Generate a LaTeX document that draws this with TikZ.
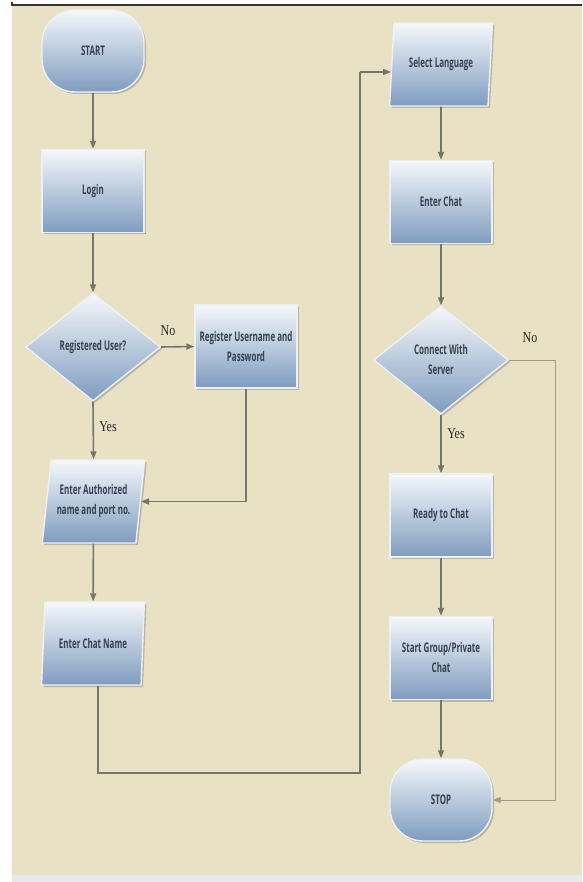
\documentclass[tikz,border=0pt]{standalone}
\usepackage{fontspec}
\usetikzlibrary{shapes.geometric,shapes.misc,shadows,arrows.meta}
\newfontfamily\boxfont[FakeStretch=0.6]{Open Sans}
\newfontfamily\lblfont[FakeStretch=0.8]{Liberation Serif}
\definecolor{bgbeige}{HTML}{E9E1C3}
\definecolor{boxtop}{HTML}{F5F8FB}
\definecolor{boxbot}{HTML}{7F9CBF}
\definecolor{boxedge}{HTML}{EEF1F4}
\definecolor{txtc}{HTML}{36404E}
\definecolor{linec}{HTML}{76756C}
\definecolor{thinc}{HTML}{A09C8E}
\definecolor{bottomstrip}{HTML}{E6EAEA}
\begin{document}
\begin{tikzpicture}[x=1pt,y=-1pt,
  base/.style={draw=boxedge,line width=1.4pt,top color=boxtop,bottom color=boxbot,
    text=txtc,font=\boxfont\bfseries\fontsize{13.3}{20}\selectfont,align=center,inner sep=0pt,
    drop shadow={shadow xshift=2pt,shadow yshift=-2pt,opacity=0.45}},
  procbox/.style={base,rectangle,minimum width=102pt,minimum height=83pt},
  termbox/.style={base,rectangle,rounded corners=33pt,minimum width=102pt,minimum height=82pt},
  decbox/.style={base,diamond,minimum width=135pt,minimum height=108pt},
  iobox/.style={base,trapezium,trapezium left angle=77,trapezium right angle=103,
    trapezium stretches=true,minimum width=103pt,minimum height=83pt},
  flow/.style={draw=linec,line width=1.6pt,-{Triangle[length=8pt,width=6pt]}},
  flowline/.style={draw=linec,line width=1.4pt},
  thinflow/.style={draw=thinc,line width=0.8pt,-{Triangle[length=8pt,width=6pt]}},
  lbl/.style={font=\lblfont\fontsize{15}{17}\selectfont,text=black!85,inner sep=0pt}]
\useasboundingbox (0,0) rectangle (582,882);
% background
\fill[bgbeige] (12,6) rectangle (582,875);
\fill[bottomstrip] (12,875) rectangle (582,882);
\draw[black!80,line width=1.5pt] (12,5) -- (582,5);
\draw[black!80,line width=1.5pt] (12,2) -- (12,6);
% nodes
\node[termbox] (start) at (93,51) {START};
\node[procbox] (login) at (93,191) {Login};
\node[decbox] (reg) at (93,347) {Registered User?};
\node[procbox] (register) at (246,346.5) {Register Username and\\Password};
\node[iobox] (auth) at (93.5,501.5) {Enter Authorized\\name and port no.};
\node[iobox] (chatname) at (93,643.5) {Enter Chat Name};
\node[iobox] (select) at (441,64.5) {Select Language};
\node[procbox] (enterchat) at (441,202) {Enter Chat};
\node[decbox] (connect) at (441,360) {Connect With\\Server};
\node[procbox] (ready) at (441,515.5) {Ready to Chat};
\node[procbox] (group) at (441,658) {Start Group/Private\\Chat};
\node[termbox] (stop) at (441,800) {STOP};
% labels
\node[lbl] (lno1) at (168,331) {No};
\node[lbl] (lyes1) at (108,427) {Yes};
\node[lbl] (lno2) at (530,338) {No};
\node[lbl] (lyes2) at (456,434) {Yes};
% helper coordinates
\coordinate (c1) at (98,773);
\coordinate (c2) at (360,773);
\coordinate (c3) at (360,72);
\coordinate (n1) at (555,360);
% connectors
\draw[flow] (start) -- (login);
\draw[flow] (login) -- (reg);
\draw[flow] (reg.east) -- (register.west);
\draw[flow] (reg.south) -- (auth.north);
\draw[flow] (register.south) |- (auth.east);
\draw[flow] (auth) -- (chatname);
\draw[flowline] (c1 |- chatname.south) -- (c1) -- (c2) -- (c3);
\draw[flow] (c3) -- (c3 -| select.west);
\draw[flow] (select) -- (enterchat);
\draw[flow] (enterchat) -- (connect);
\draw[flow] (connect) -- (ready);
\draw[flow] (ready) -- (group);
\draw[flow] (group) -- (stop);
\draw[thinflow] (connect.east) -- (n1) |- (stop.east);
\end{tikzpicture}
\end{document}
